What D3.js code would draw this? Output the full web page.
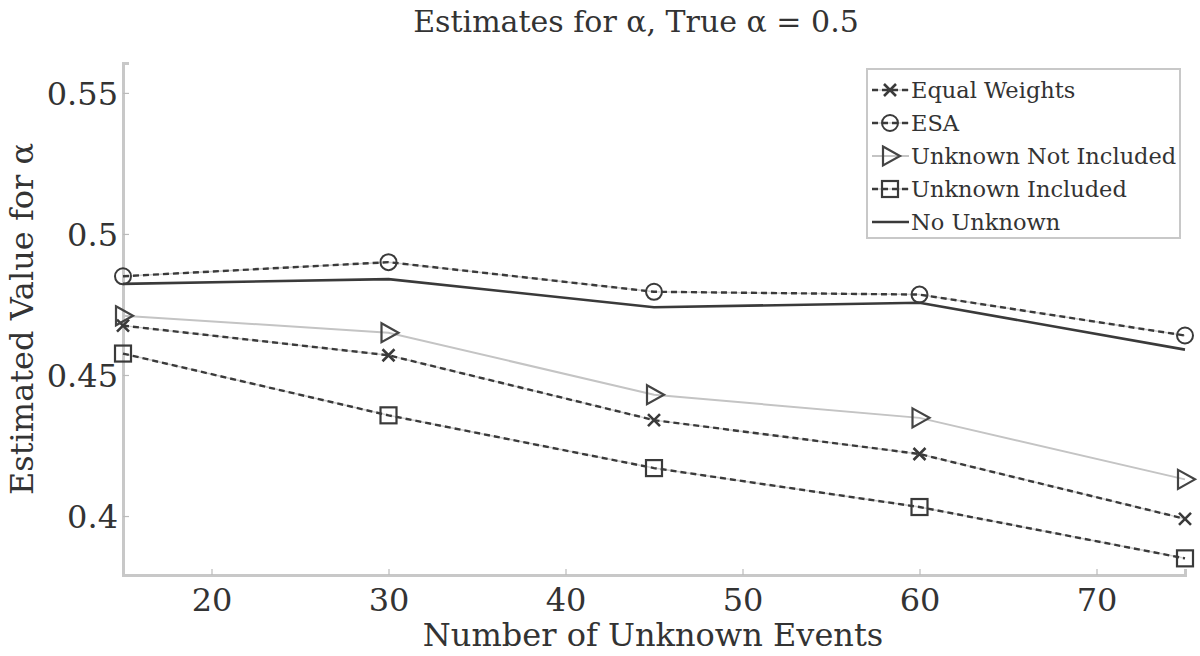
<!DOCTYPE html>
<html>
<head>
<meta charset="utf-8">
<script src="https://cdn.jsdelivr.net/npm/d3@7"></script>
<style>
  body { margin: 0; background: #fff; }
  text { font-family: "DejaVu Serif", serif; fill: #333; }
</style>
</head>
<body>
<div id="chart"></div>
<script>
// x values (number of unknown events)
const events = [15, 30, 45, 60, 75]

// estimated alpha per method
const equalWeights = [0.4675, 0.457, 0.434, 0.422, 0.399]
const esa = [0.485, 0.490, 0.4795, 0.4785, 0.464]
const unknownNotIncluded = [0.471, 0.465, 0.443, 0.4348, 0.413]
const unknownIncluded = [0.4576, 0.4357, 0.417, 0.4032, 0.385]
const noUnknown = [0.4823, 0.484, 0.474, 0.4756, 0.459]

const xTicks = [20, 30, 40, 50, 60, 70]
const yTicks = [0.4, 0.45, 0.5, 0.55]
const yTickLabels = ['0.4', '0.45', '0.5', '0.55']

const seriesNames = ['Equal Weights', 'ESA', 'Unknown Not Included', 'Unknown Included', 'No Unknown']
const seriesValues = [equalWeights, esa, unknownNotIncluded, unknownIncluded, noUnknown]

// styling per series
const styles = [
  {marker: 'x', stroke: '#3a3a3a', dash: '6 4', width: 2.4, under: '#cfcfcf'},
  {marker: 'circle', stroke: '#3a3a3a', dash: '6 4', width: 2.4, under: '#cfcfcf'},
  {marker: 'triangle', stroke: '#c4c4c4', dash: null, width: 2, under: null},
  {marker: 'square', stroke: '#3a3a3a', dash: '6 4', width: 2.4, under: '#cfcfcf'},
  {marker: 'none', stroke: '#3a3a3a', dash: null, width: 2.6, under: null}
]

const outerWidth = 1200
const outerHeight = 656
const margin = {top: 63, right: 15, bottom: 81, left: 123}
const width = outerWidth - margin.left - margin.right
const height = outerHeight - margin.top - margin.bottom

const raw = d3.select('#chart')
  .append('svg')
  .attr('width', outerWidth)
  .attr('height', outerHeight)
const svg = raw.append('g')
  .attr('transform', `translate(${margin.left},${margin.top})`)

// scales
const xs = d3.scaleLinear()
  .domain([15, 75])
  .range([0, width])
const ys = d3.scaleLinear()
  .domain([0.3791, 0.5606])
  .range([height, 0])

// axes (only left and bottom, light gray)
const axisColor = '#c8c8c8'
const xAxis = svg.append('g')
  .attr('transform', `translate(0,${height})`)
  .call(d3.axisBottom(xs).tickValues(xTicks).tickSize(-6).tickPadding(13).tickFormat(d3.format('d')))
const yAxis = svg.append('g')
  .call(d3.axisLeft(ys).tickValues(yTicks).tickSize(-6).tickPadding(5)
    .tickFormat((d, i) => yTickLabels[i]))
for (const ax of [xAxis, yAxis]) {
  ax.attr('font-family', null).attr('font-size', null)
  ax.select('.domain').attr('stroke', axisColor).attr('stroke-width', 3)
  ax.selectAll('.tick line').attr('stroke', '#bbb').attr('stroke-width', 1.2)
  ax.selectAll('.tick text')
    .style('font-size', '32px')
    .attr('fill', '#333')
}
xAxis.selectAll('.tick text').attr('dy', '0.71em')
yAxis.selectAll('.tick text').attr('dy', '0.36em')

function drawMarker (g, type, color) {
  if (type === 'circle') {
    g.append('circle').attr('r', 8).attr('fill', 'none').attr('stroke', color).attr('stroke-width', 2)
  } else if (type === 'square') {
    g.append('rect').attr('x', -8).attr('y', -8).attr('width', 16).attr('height', 16)
      .attr('fill', 'none').attr('stroke', color).attr('stroke-width', 2.2)
  } else if (type === 'triangle') {
    g.append('path').attr('d', 'M-7,-9.5L10,0L-7,9.5Z')
      .attr('fill', 'none').attr('stroke', '#444').attr('stroke-width', 2.2)
  } else if (type === 'x') {
    g.append('path').attr('d', 'M-6,-6L6,6M-6,6L6,-6')
      .attr('fill', 'none').attr('stroke', color).attr('stroke-width', 2.6)
  }
}

const line = d3.line()
  .x((d, i) => xs(events[i]))
  .y((d) => ys(d))

// series lines and markers
seriesValues.forEach((vals, k) => {
  const st = styles[k]
  if (st.under) {
    svg.append('path').attr('d', line(vals)).attr('fill', 'none')
      .attr('stroke', st.under).attr('stroke-width', 1.5)
  }
  svg.append('path')
    .attr('d', line(vals))
    .attr('fill', 'none')
    .attr('stroke', st.stroke)
    .attr('stroke-width', st.width)
    .attr('stroke-dasharray', st.dash)
  svg.selectAll(null)
    .data(vals)
    .enter()
    .append('g')
    .attr('transform', (d, i) => `translate(${xs(events[i])},${ys(d)})`)
    .each(function () { drawMarker(d3.select(this), st.marker, st.stroke) })
})

// title and axis labels
raw.append('text')
  .attr('x', 636)
  .attr('y', 32)
  .attr('text-anchor', 'middle')
  .style('font-size', '30px')
  .text('Estimates for α, True α = 0.5')
raw.append('text')
  .attr('x', 653)
  .attr('y', 646)
  .attr('text-anchor', 'middle')
  .style('font-size', '32px')
  .text('Number of Unknown Events')
raw.append('text')
  .attr('transform', 'rotate(-90)')
  .attr('x', -319)
  .attr('y', 33)
  .attr('text-anchor', 'middle')
  .style('font-size', '32px')
  .text('Estimated Value for α')

// legend
const legend = raw.append('g').attr('transform', 'translate(867,69)')
legend.append('rect')
  .attr('width', 313)
  .attr('height', 169)
  .attr('fill', '#fff')
  .attr('stroke', '#c8c8c8')
  .attr('stroke-width', 2)
seriesNames.forEach((name, k) => {
  const st = styles[k]
  const y = 21 + k * 33
  if (st.under) {
    legend.append('path').attr('d', `M5,${y}H42`).attr('stroke', st.under).attr('stroke-width', 1.5)
  }
  legend.append('path')
    .attr('d', `M5,${y}H42`)
    .attr('stroke', st.stroke)
    .attr('stroke-width', st.width)
    .attr('stroke-dasharray', st.dash)
  const g = legend.append('g').attr('transform', `translate(23,${y})`)
  drawMarker(g, st.marker, st.stroke)
  legend.append('text')
    .attr('x', 44)
    .attr('y', y)
    .attr('dy', '0.36em')
    .style('font-size', '22.5px')
    .text(name)
})
</script>
</body>
</html>
